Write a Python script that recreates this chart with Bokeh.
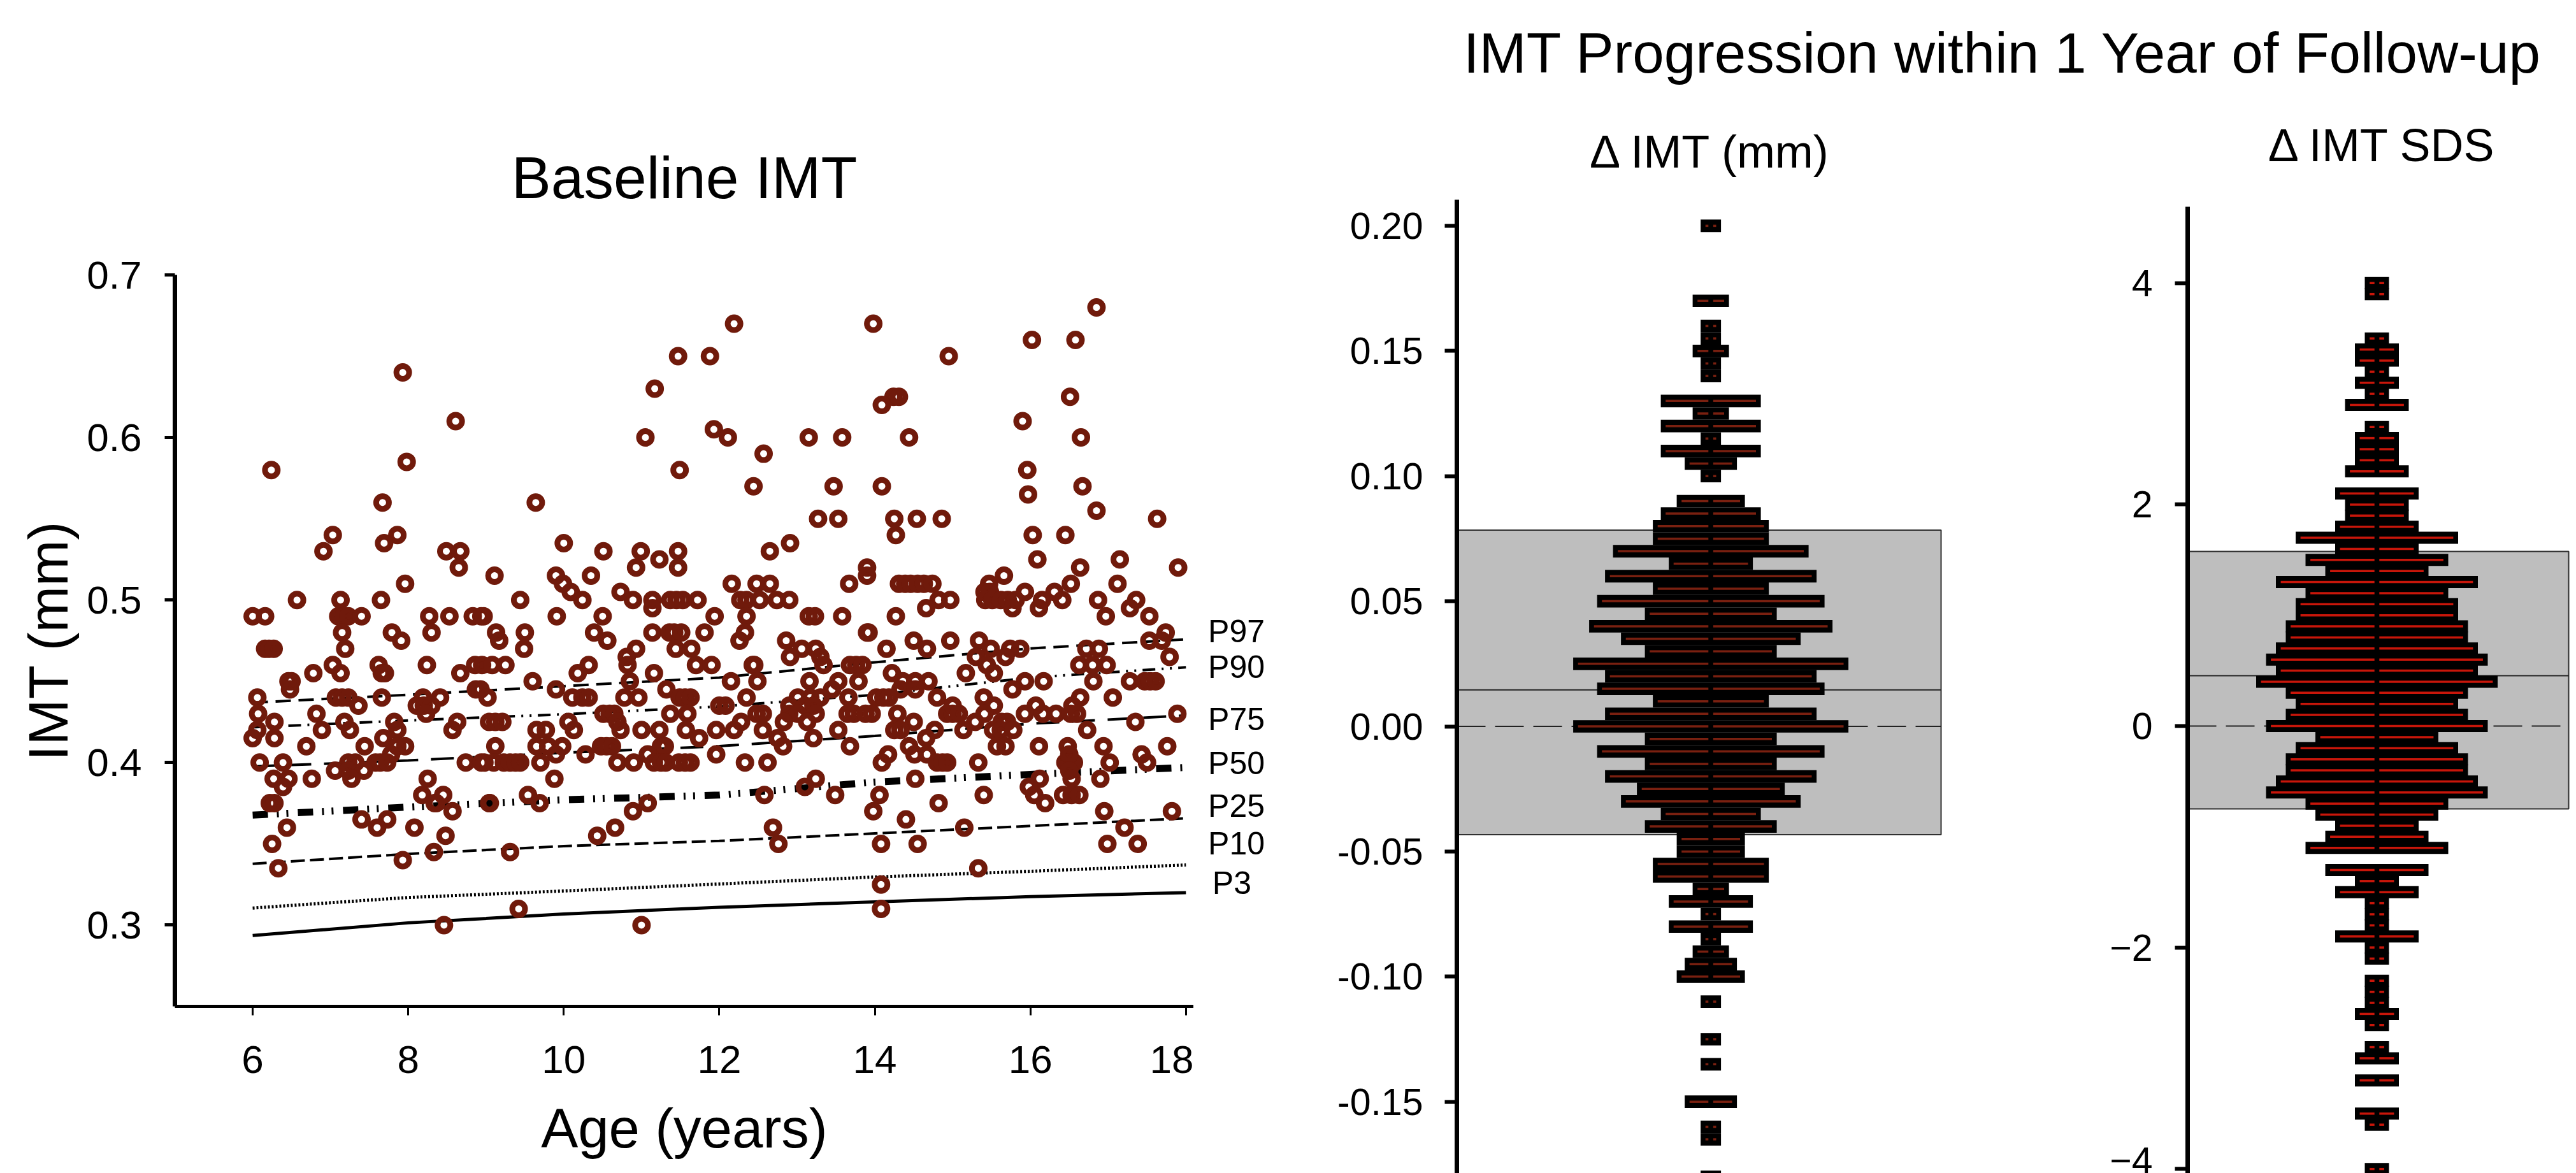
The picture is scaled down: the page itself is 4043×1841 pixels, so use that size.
from bokeh.embed import file_html
from bokeh.layouts import column, row
from bokeh.models import FixedTicker, Label, NumeralTickFormatter, Range1d
from bokeh.plotting import figure
from bokeh.resources import INLINE
from bokeh.core.properties import value

FONT = "Liberation Sans"
RING = "#701A0B"
BROWN = "#7A2010"
RED = "#C8160A"
GREY = "#BEBEBE"

# ---- Baseline IMT: (age, IMT)
points_6_9 = [
 (7.93,.64),(8.61,.61),(6.24,.58),(7.98,.585),(7.67,.56),(7.03,.54),(6.91,.53),(7.86,.54),(7.69,.535),(8.49,.53),
 (8.67,.53),(8.65,.52),(7.96,.51),(6.57,.50),(7.13,.50),(7.65,.50),(6.0,.49),(6.16,.49),(7.10,.49),(7.17,.49),
 (7.23,.49),(7.40,.49),(8.27,.49),(8.53,.49),(8.83,.49),(8.94,.49),(7.15,.48),(8.30,.48),(7.79,.48),(7.91,.475),
 (6.16,.47),(6.21,.47),(6.27,.47),(7.19,.47),(7.03,.46),(7.13,.455),(7.62,.46),(7.66,.455),(7.70,.455),(8.24,.46),
 (8.86,.46),(8.67,.455),(6.78,.455),(6.46,.45),(6.50,.45),(6.48,.445),(8.87,.445),(6.06,.44),(7.07,.44),(7.15,.44),
 (7.23,.44),(7.66,.44),(8.19,.44),(8.41,.44),(7.36,.435),(8.11,.435),(8.20,.435),(8.30,.435),(8.23,.43),(6.07,.43),
 (6.82,.43),(6.28,.425),(7.18,.425),(7.82,.425),(8.63,.425),(6.89,.42),(7.25,.42),(7.86,.42),(8.57,.42),(6.06,.42),
 (6.0,.415),(6.28,.415),(7.68,.415),(7.44,.41),(7.86,.41),(7.96,.41),(6.69,.41),(7.78,.405),(6.09,.40),(6.39,.40),
 (7.58,.40),(7.64,.40),(7.73,.40),(7.23,.40),(7.32,.40),(8.74,.40),(8.94,.40),(7.06,.395),(7.23,.395),(7.43,.395),
 (6.27,.39),(6.46,.39),(6.76,.39),(7.27,.39),(8.25,.39),(6.39,.385),(8.18,.38),(8.45,.38),(6.22,.375),(6.28,.375),
 (8.34,.375),(8.36,.375),(8.57,.37),(7.40,.365),(7.73,.365),(7.60,.36),(6.44,.36),(8.08,.36),(8.48,.355),(6.25,.35),
 (8.33,.345),(7.93,.34),(6.33,.335),(8.46,.30),
]
points_9_12 = [
 (11.47,.65),(11.88,.65),(11.17,.63),(11.05,.60),(11.93,.605),(11.49,.58),(9.64,.56),(10.0,.535),(10.51,.53),(10.99,.53),
 (11.47,.53),(11.23,.525),(10.93,.52),(11.47,.52),(9.11,.515),(10.35,.515),(9.90,.515),(9.99,.51),(10.09,.505),(10.24,.50),
 (10.73,.505),(10.89,.50),(9.44,.50),(11.14,.50),(11.14,.495),(11.37,.50),(11.45,.50),(11.53,.50),(11.72,.50),(8.97,.49),
 (9.91,.49),(10.50,.49),(11.94,.49),(9.13,.48),(9.17,.475),(9.50,.48),(9.49,.47),(10.39,.48),(10.56,.475),(11.14,.48),
 (11.36,.48),(11.42,.48),(11.51,.48),(11.81,.48),(10.93,.47),(10.81,.465),(11.44,.47),(11.64,.47),(8.95,.46),(9.08,.46),
 (9.25,.46),(10.32,.46),(10.82,.46),(11.70,.46),(11.90,.46),(10.18,.455),(11.16,.455),(9.60,.45),(10.85,.45),(9.90,.445),
 (11.32,.445),(8.93,.445),(9.02,.44),(10.11,.44),(10.24,.44),(10.32,.44),(10.78,.44),(10.96,.44),(11.49,.44),(11.56,.44),
 (11.63,.44),(12.0,.435),(11.37,.43),(11.59,.43),(10.51,.43),(10.59,.43),(10.65,.43),(9.04,.425),(9.12,.425),(9.21,.425),
 (10.06,.425),(10.69,.425),(9.65,.42),(9.77,.42),(10.13,.42),(10.73,.42),(11.0,.42),(11.23,.42),(11.57,.42),(11.96,.42),
 (11.74,.415),(9.12,.41),(9.65,.41),(9.80,.41),(9.98,.41),(10.48,.41),(10.55,.41),(10.62,.41),(11.25,.41),(11.30,.41),
 (10.28,.405),(9.90,.405),(11.96,.405),(8.98,.40),(9.10,.40),(9.23,.40),(9.31,.40),(9.38,.40),(9.44,.40),(9.70,.40),
 (10.69,.40),(10.90,.40),(11.08,.405),(11.16,.40),(11.25,.40),(11.31,.40),(11.48,.40),(11.56,.40),(11.63,.40),(9.88,.39),
 (9.54,.38),(9.69,.375),(9.04,.375),(9.05,.375),(11.08,.375),(10.89,.37),(10.66,.36),(10.43,.355),(9.31,.345),(9.42,.31),
 (11.0,.30),
]
points_12_15 = [
 (12.19,.67),(13.98,.67),(14.95,.65),(14.24,.625),(14.31,.625),(14.09,.62),(12.11,.60),(12.57,.59),(13.15,.60),(13.58,.60),
 (14.44,.60),(12.44,.57),(13.47,.57),(14.09,.57),(13.27,.55),(13.53,.55),(14.25,.55),(14.54,.55),(14.86,.55),(14.27,.54),
 (12.65,.53),(12.91,.535),(13.90,.52),(13.90,.515),(12.16,.51),(12.48,.51),(12.65,.51),(13.67,.51),(14.31,.51),(14.39,.51),
 (14.46,.51),(14.55,.51),(14.63,.51),(14.74,.51),(12.27,.50),(12.35,.50),(12.52,.50),(12.74,.50),(12.90,.50),(14.82,.50),
 (14.97,.50),(14.66,.495),(12.35,.49),(13.15,.49),(13.23,.49),(13.58,.49),(14.27,.49),(13.90,.48),(13.92,.48),(12.33,.48),
 (12.26,.475),(12.86,.475),(14.50,.475),(14.97,.475),(13.06,.47),(13.24,.47),(14.15,.47),(14.67,.47),(12.91,.465),(13.30,.465),
 (12.43,.46),(12.45,.46),(13.34,.46),(13.68,.46),(13.76,.46),(13.84,.46),(12.49,.45),(12.15,.45),(13.16,.45),(13.53,.45),
 (13.79,.45),(14.22,.455),(14.36,.45),(14.52,.45),(14.69,.45),(13.45,.445),(14.33,.445),(14.52,.445),(12.35,.44),(13.01,.44),
 (13.17,.44),(13.30,.44),(13.66,.44),(14.02,.44),(14.11,.44),(14.18,.44),(14.80,.44),(12.08,.435),(12.90,.435),(13.10,.435),
 (13.21,.435),(12.48,.43),(12.56,.43),(13.73,.43),(13.88,.43),(13.96,.43),(13.65,.43),(14.29,.43),(12.90,.43),(13.01,.43),
 (13.24,.43),(14.93,.43),(15.0,.43),(12.28,.425),(12.83,.425),(13.13,.425),(14.50,.425),(12.19,.42),(12.56,.42),(13.53,.42),
 (14.25,.42),(14.33,.42),(14.77,.42),(12.75,.415),(13.21,.415),(14.66,.415),(12.82,.41),(13.68,.41),(14.44,.41),(14.17,.405),
 (14.51,.405),(14.67,.405),(12.33,.40),(12.62,.40),(14.09,.40),(14.80,.40),(14.87,.40),(14.93,.40),(14.52,.39),(13.24,.39),
 (13.10,.385),(12.58,.38),(13.49,.38),(14.06,.38),(13.98,.37),(14.82,.375),(14.40,.365),(12.69,.36),(12.76,.35),(14.08,.35),
 (14.55,.35),(14.08,.325),(14.08,.31),
]
points_15_18 = [
 (16.85,.68),(16.02,.66),(16.58,.66),(16.51,.625),(15.90,.61),(16.65,.60),(15.96,.58),(16.67,.57),(15.97,.565),(16.85,.555),
 (17.63,.55),(16.03,.54),(16.45,.54),(16.09,.525),(17.15,.525),(16.64,.52),(17.90,.52),(15.66,.515),(16.52,.51),(17.12,.51),
 (15.47,.51),(15.41,.505),(15.48,.505),(15.42,.50),(15.51,.50),(15.62,.50),(15.71,.50),(15.81,.50),(15.93,.505),(16.31,.505),
 (16.15,.50),(16.41,.50),(16.87,.50),(17.36,.50),(17.28,.495),(15.77,.495),(16.11,.495),(16.97,.49),(17.53,.49),(15.34,.475),
 (17.74,.48),(17.53,.475),(17.69,.475),(15.49,.47),(15.74,.47),(15.87,.47),(16.72,.47),(16.88,.47),(15.30,.465),(15.68,.465),
 (17.79,.465),(15.44,.46),(16.63,.46),(16.80,.46),(16.98,.46),(15.17,.455),(15.53,.455),(15.93,.45),(16.17,.45),(16.81,.45),
 (17.28,.45),(17.47,.45),(17.54,.45),(17.61,.45),(15.77,.445),(15.40,.44),(16.64,.44),(17.06,.44),(15.0,.435),(16.54,.435),
 (15.53,.435),(16.07,.435),(15.08,.43),(15.41,.43),(15.93,.43),(16.16,.43),(16.33,.43),(16.52,.43),(16.60,.43),(17.89,.43),
 (15.29,.425),(15.63,.425),(15.70,.425),(17.35,.425),(15.14,.42),(15.52,.42),(15.62,.42),(15.78,.42),(16.73,.42),(15.57,.41),
 (15.68,.41),(16.11,.41),(16.48,.41),(16.94,.41),(17.76,.41),(17.43,.405),(15.33,.40),(16.45,.40),(16.50,.40),(16.56,.40),
 (16.50,.405),(16.50,.395),(17.02,.40),(17.50,.40),(16.53,.39),(16.12,.39),(16.90,.39),(15.98,.385),(16.05,.38),(15.40,.38),
 (16.42,.38),(16.53,.38),(16.63,.38),(16.19,.375),(16.95,.37),(17.82,.37),(15.15,.36),(17.21,.36),(16.99,.35),(17.38,.35),
 (15.33,.335),
]
all_points = points_6_9 + points_9_12 + points_12_15 + points_15_18
age = [a for a, _ in all_points]
imt = [v for _, v in all_points]

# ---- Percentile curves
curve_age = [6, 8, 10, 12, 14, 16, 18]
p3 = [.2936, .3014, .3068, .311, .3143, .3175, .32]
p10 = [.3105, .317, .321, .3253, .3296, .3331, .337]
p25 = [.3377, .3438, .3486, .3518, .3564, .361, .3657]
p50 = [.3677, .3726, .3771, .38, .388, .3927, .397]
p75 = [.3976, .4013, .406, .4101, .4164, .4239, .429]
p90 = [.4217, .4259, .4297, .4345, .4417, .4523, .4586]
p97 = [.4369, .4417, .447, .4523, .4617, .4702, .4758]
p_names = ["P97", "P90", "P75", "P50", "P25", "P10"]
p_label_x = [18.285] * 6
p_label_y = [.4808, .4588, .4266, .3995, .3732, .35]

# ---- Delta IMT (mm)
delta_mm = [0.20,0.17,0.16,0.155,0.15,0.145,0.14,0.13,0.125,0.12,0.115,0.11,0.105,0.10,0.09,0.085,0.08,0.075,0.07,0.065,
            0.06,0.055,0.05,0.045,0.04,0.035,0.03,0.025,0.02,0.015,0.01,0.005,0,-0.005,-0.01,-0.015,-0.02,-0.025,-0.03,-0.035,
            -0.04,-0.045,-0.05,-0.055,-0.06,-0.065,-0.07,-0.075,-0.08,-0.085,-0.09,-0.095,-0.10,-0.11,-0.125,-0.135,-0.15,-0.16,-0.165,-0.18]
delta_mm_n = [1,2,1,1,2,1,1,6,2,6,1,6,3,1,4,6,7,7,12,5,
              13,7,14,8,15,11,8,17,13,14,7,13,17,8,14,8,13,9,11,6,
              8,4,4,7,7,2,5,1,5,1,2,3,4,1,1,1,3,1,1,1]
mm_band = (-0.0433, 0.0784)
mm_mean = 0.0146
mm_ticks = [-0.15, -0.10, -0.05, 0, 0.05, 0.10, 0.15, 0.20]

# ---- Delta IMT SDS
delta_sds = [4.0,3.9,3.5,3.4,3.3,3.2,3.1,3.0,2.9,2.7,2.6,2.5,2.4,2.3,2.1,2.0,1.9,1.8,1.7,1.6,
             1.5,1.4,1.3,1.2,1.1,1.0,0.9,0.8,0.7,0.6,0.5,0.4,0.3,0.2,0.1,0,-0.1,-0.2,-0.3,-0.4,
             -0.5,-0.6,-0.7,-0.8,-0.9,-1.0,-1.1,-1.3,-1.4,-1.5,-1.6,-1.7,-1.8,-1.9,-2.0,-2.1,-2.3,-2.4,-2.5,-2.6,
             -2.7,-2.9,-3.0,-3.2,-3.5,-3.6,-4.0]
delta_sds_n = [1,1,1,2,2,1,2,1,3,1,2,2,2,3,4,3,3,4,8,4,
               7,5,10,7,8,8,9,9,10,11,10,12,9,8,9,11,6,8,9,9,
               10,11,7,6,4,5,7,5,2,4,1,1,1,4,1,1,1,1,1,2,
               1,1,2,2,2,1,1]
sds_band = (-0.748, 1.577)
sds_mean = 0.455
sds_ticks = [-4, -2, 0, 2, 4]

assert len(delta_mm) == len(delta_mm_n)
assert len(delta_sds) == len(delta_sds_n)


def style_axis(ax, line_w, tick_w, tick_len, standoff, size="59px"):
    ax.axis_line_color = "black"
    ax.axis_line_width = line_w
    ax.major_tick_line_color = "black"
    ax.major_tick_line_width = tick_w
    ax.major_tick_in = 0
    ax.major_tick_out = tick_len
    ax.minor_tick_line_color = None
    ax.major_label_text_font = FONT
    ax.major_label_text_font_size = size
    ax.major_label_text_color = "black"
    ax.major_label_standoff = standoff


# ---- Left panel
shared_y = Range1d(0.25, 0.7)
left = figure(width=1873, height=1841, output_backend="svg", toolbar_location=None,
              x_range=Range1d(5, 18.1), y_range=shared_y,
              min_border_left=274, min_border_right=0, min_border_top=431, min_border_bottom=262,
              title="Baseline IMT")
left.title.align = "center"
left.title.text_font = FONT
left.title.text_font_size = "93px"
left.title.text_font_style = "normal"
left.title.text_color = "black"
left.title.standoff = 202
left.grid.visible = False
left.outline_line_color = None
left.background_fill_color = "white"
style_axis(left.yaxis[0], 7, 5, 16, 36, "62px")
style_axis(left.xaxis[0], 5, 3, 14, 48, "62px")
left.yaxis[0].ticker = FixedTicker(ticks=[0.3, 0.4, 0.5, 0.6, 0.7])
left.yaxis[0].formatter = NumeralTickFormatter(format="0.0")
left.xaxis[0].ticker = FixedTicker(ticks=[6, 8, 10, 12, 14, 16, 18])
for ax, txt, so in ((left.yaxis[0], "IMT (mm)", 9), (left.xaxis[0], "Age (years)", 35)):
    ax.axis_label = txt
    ax.axis_label_text_font = FONT
    ax.axis_label_text_font_size = "87px"
    ax.axis_label_text_font_style = "normal"
    ax.axis_label_text_color = "black"
    ax.axis_label_standoff = so

left.line(curve_age, p3, line_color="black", line_width=5)
left.line(curve_age, p10, line_color="black", line_width=5, line_dash="3 3")
left.line(curve_age, p25, line_color="black", line_width=4, line_dash="22 8")
left.line(curve_age, p50, line_color="black", line_width=11, line_dash="24 14 3 12 3 15")
left.line(curve_age, p75, line_color="black", line_width=4, line_dash="36 20")
left.line(curve_age, p90, line_color="black", line_width=4, line_dash="20 10 3 10 3 10")
left.line(curve_age, p97, line_color="black", line_width=4, line_dash="24 12")
left.scatter(age, imt, marker="circle", size=20, line_color=RING, line_width=9, fill_alpha=0)

# Curve names to the right of the left panel, on the same y scale
names = figure(width=177, height=1841, output_backend="svg", toolbar_location=None,
               x_range=Range1d(18.1, 18.1 + 177 / 122.06), y_range=shared_y,
               x_axis_location=None, y_axis_location=None,
               min_border_left=0, min_border_right=0, min_border_top=431, min_border_bottom=262)
names.grid.visible = False
names.outline_line_color = None
names.text(p_label_x, p_label_y, text=p_names, text_font=value(FONT), text_font_size="50px",
           text_baseline="middle", text_color="black")
names.text([18.34], [.3257], text=["P3"], text_font=value(FONT), text_font_size="50px",
           text_baseline="middle", text_color="black")


def swarm(width, x_start, x_end, y_range, ys, ns, band, mean, ticks, fmt, unit, bar_h, color, box_right, title,
          title_x, title_y, frame_left, tick_len, standoff):
    p = figure(width=width, height=1683, output_backend="svg", toolbar_location=None,
               x_range=Range1d(x_start, x_end), y_range=Range1d(*y_range), x_axis_location=None,
               min_border_left=frame_left, min_border_right=0, min_border_top=0, min_border_bottom=0)
    p.grid.visible = False
    p.outline_line_color = None
    style_axis(p.yaxis[0], 7, 6, tick_len, standoff)
    p.yaxis[0].ticker = FixedTicker(ticks=ticks)
    if fmt:
        p.yaxis[0].formatter = NumeralTickFormatter(format=fmt)
    p.quad(left=[x_start], right=[box_right], bottom=[band[0]], top=[band[1]],
           fill_color=GREY, line_color="#303030", line_width=2)
    p.segment([x_start], [mean], [box_right], [mean], line_color="#222222", line_width=2)
    p.segment([x_start], [0], [box_right], [0], line_color="#222222", line_width=2, line_dash="45 15")
    half = [(n + 7.0 / unit) / 2 for n in ns]
    inset = 7.6 / unit
    gap = 3.8 / unit
    p.hbar(y=ys, left=[-h for h in half], right=half, height=bar_h, fill_color="black", line_color=None)
    p.segment([gap] * len(ys), ys, [h - inset for h in half], ys, line_color=color, line_width=3.5)
    p.segment([-gap] * len(ys), ys, [-(h - inset) for h in half], ys, line_color=color, line_width=3.5)
    p.add_layout(Label(x=title_x, y=title_y, text=title, text_font=FONT, text_font_size="72px",
                       text_align="center", text_baseline="middle", text_color="black"))
    return p


mid = swarm(1050, -398.6 / 25, 415.4 / 25, ((1139.5 - 1841) / 3928, (1139.5 - 158) / 3928), delta_mm, delta_mm_n,
            mm_band, mm_mean, mm_ticks, "0.00", 25.0, 19.7 / 3928, BROWN, 14.456, "\u0394 IMT (mm)",
            0, (1139.5 - 237) / 3928, 236, 19, 34)
mid.yaxis[0].bounds = ((1139.5 - 1841) / 3928, 0.2104)

right = swarm(943, -297 / 31, 313 / 31, ((1139 - 1841) / 173.8, (1139 - 158) / 173.8), delta_sds, delta_sds_n,
              sds_band, sds_mean, sds_ticks, None, 31.0, 19.0 / 173.8, RED, 9.71, "\u0394 IMT SDS",
              0.3, (1139 - 227) / 173.8, 333, 20, 35)
right.yaxis[0].bounds = ((1139 - 1841) / 173.8, 4.69)

# ---- Shared heading above the two right panels
head = figure(width=1993, height=158, output_backend="svg", toolbar_location=None,
              x_range=Range1d(0, 1993), y_range=Range1d(0, 158), x_axis_location=None, y_axis_location=None,
              min_border_left=0, min_border_right=0, min_border_top=0, min_border_bottom=0)
head.grid.visible = False
head.outline_line_color = None
head.add_layout(Label(x=1093, y=76, text="IMT Progression within 1 Year of Follow-up", text_font=FONT,
                      text_font_size="89px", text_align="center", text_baseline="middle", text_color="black"))

page = row(left, names, column(head, row(mid, right, spacing=0), spacing=0), spacing=0)
open("out.html", "w").write(file_html(page, INLINE))
